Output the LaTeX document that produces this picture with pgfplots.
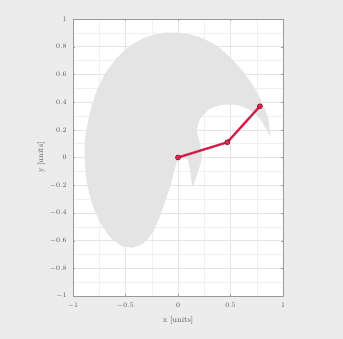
\documentclass[border=0pt]{standalone}
\usepackage{pgfplots}
\pgfplotsset{compat=1.18}
\definecolor{bgc}{RGB}{236,236,236}
\definecolor{regc}{RGB}{228,228,228}
\definecolor{armred}{RGB}{228,40,85}
\definecolor{armdark}{RGB}{120,20,40}
\begin{document}
\begin{tikzpicture}[x=1bp,y=1bp]
\fill[bgc] (0,0) rectangle (343,339);
\begin{axis}[
  at={(73bp,43bp)}, anchor=south west,
  width=210bp, height=277bp, scale only axis,
  xmin=-1, xmax=1, ymin=-1, ymax=1,
  xtick={-1,-0.5,0,0.5,1},
  ytick={-1,-0.8,-0.6,-0.4,-0.2,0,0.2,0.4,0.6,0.8,1},
  minor x tick num=1, minor y tick num=1,
  grid=both,
  major grid style={draw=black!10, line width=0.4pt},
  minor grid style={draw=black!6, line width=0.3pt},
  axis line style={draw=black!40},
  tick style={draw=black!40},
  minor tick length=0pt,
  major tick length=2pt,
  tick label style={font=\fontsize{7.5}{8}\selectfont, text=black!65},
  xticklabel style={yshift=-4pt},
  yticklabel style={xshift=-3pt},
  label style={font=\fontsize{8}{9}\selectfont, text=black!65},
  xlabel={x [units]}, ylabel={y [units]},
  xlabel style={yshift=-1pt},
  ylabel style={yshift=-2pt},
  axis background/.style={fill=white},
]
\addplot[fill=regc, draw=none, smooth, tension=0.35] coordinates {
(0.88,0.15) (0.86,0.28) (0.80,0.40) (0.72,0.51) (0.62,0.62) (0.50,0.72) (0.36,0.81) (0.20,0.87) (0.03,0.90)
(-0.14,0.90) (-0.30,0.87) (-0.45,0.81) (-0.58,0.72) (-0.69,0.61) (-0.78,0.47) (-0.84,0.32) (-0.88,0.16)
(-0.89,0.00) (-0.87,-0.17) (-0.82,-0.33) (-0.74,-0.47) (-0.64,-0.58) (-0.53,-0.64) (-0.43,-0.65)
(-0.33,-0.62) (-0.24,-0.54) (-0.17,-0.42) (-0.11,-0.29) (-0.06,-0.17) (-0.03,-0.08) (0.00,-0.02)
(0.09,-0.01) (0.12,-0.12) (0.14,-0.21) (0.19,-0.10) (0.23,0.00) (0.21,0.10)
(0.18,0.19) (0.21,0.28) (0.30,0.35) (0.42,0.38) (0.55,0.38) (0.67,0.35)
(0.78,0.28) (0.88,0.15)
} -- cycle;
\addplot[color=armred, line width=2.4pt, mark=*, mark size=2.5pt,
  mark options={fill=armred, draw=armdark, line width=0.6pt}] coordinates {
(0.0,0.0) (0.47,0.11) (0.78,0.37)
};
\addplot[color=armdark, line width=0.5pt, opacity=0.6] coordinates {
(0.0,0.0) (0.47,0.11) (0.78,0.37)
};
\end{axis}
\end{tikzpicture}
\end{document}
